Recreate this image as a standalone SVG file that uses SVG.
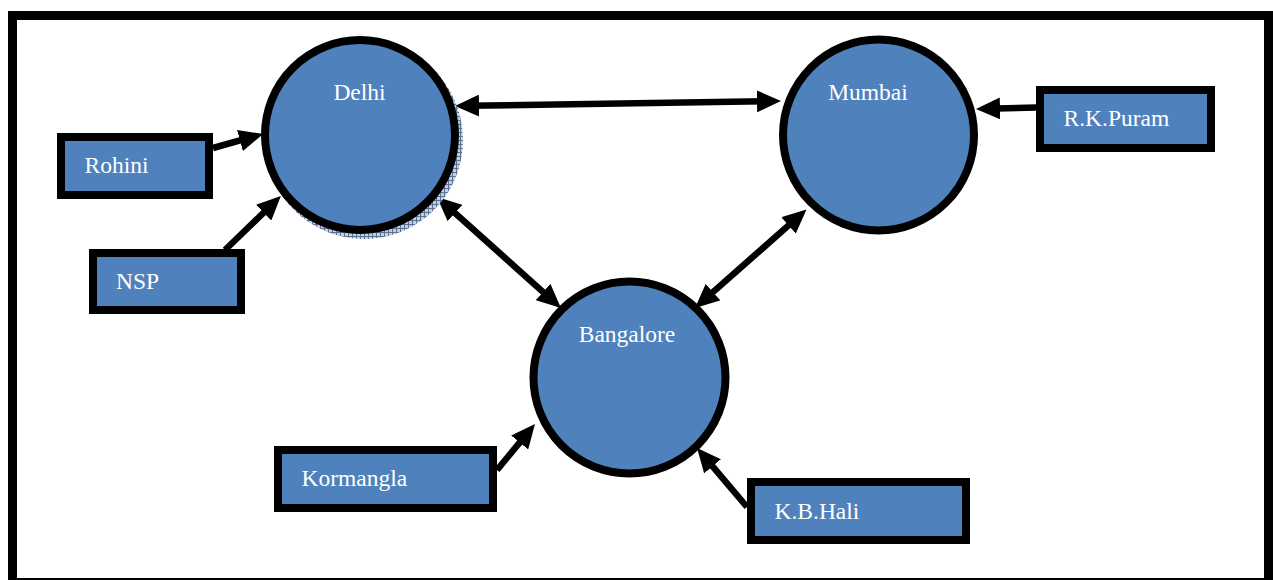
<svg xmlns="http://www.w3.org/2000/svg" width="1273" height="580" viewBox="0 0 1273 580">
  <style>
    .city { fill: #4f81bd; stroke: #000; stroke-width: 8; }
    .area { fill: #4f81bd; stroke: #000; stroke-width: 8; }
    .label { font-family: "Liberation Serif", "Times New Roman", serif; font-size: 23.5px; fill: #ffffff; }
    .link { stroke: #000; stroke-width: 6.5; fill: none; }
    .one { marker-end: url(#head); }
    .both { marker-start: url(#head); marker-end: url(#head); }
  </style>
  <defs>
    <marker id="head" markerUnits="userSpaceOnUse" viewBox="0 0 24 22" markerWidth="24" markerHeight="22" refX="14" refY="11" orient="auto-start-reverse">
      <path d="M0,0 L24,11 L0,22 z" fill="#000"/>
    </marker>
    <pattern id="hatch" width="4" height="4" patternUnits="userSpaceOnUse">
      <rect width="4" height="4" fill="#c4cfdd"/>
      <path d="M0,0.5 H4 M0.5,0 V4" stroke="#5b7194" stroke-width="1"/>
    </pattern>
  </defs>

  <rect width="1273" height="580" fill="#ffffff"/>

  <!-- outer frame -->
  <rect x="12.5" y="15.5" width="1256" height="567" fill="none" stroke="#000" stroke-width="9"/>

  <!-- connectors -->
  <g id="connectors">
    <line class="link one" x1="213" y1="148" x2="253.4" y2="136.7"/>
    <line class="link one" x1="225" y1="250" x2="273.7" y2="202.9"/>
    <line class="link both" x1="465" y1="105.85" x2="771" y2="101.15"/>
    <line class="link one" x1="1037" y1="107.5" x2="986" y2="108.8"/>
    <line class="link both" x1="444.5" y1="203.7" x2="553.5" y2="301.3"/>
    <line class="link both" x1="799" y1="216.1" x2="702.5" y2="301.4"/>
    <line class="link one" x1="497" y1="470" x2="528.6" y2="431.7"/>
    <line class="link one" x1="747" y1="507" x2="703.5" y2="455.6"/>
  </g>

  <!-- city nodes -->
  <g id="delhi">
    <circle cx="364" cy="140" r="99" fill="url(#hatch)"/>
    <circle class="city" cx="360" cy="135" r="95"/>
    <text class="label" x="359.5" y="100" text-anchor="middle">Delhi</text>
  </g>
  <g id="mumbai">
    <circle class="city" cx="878.5" cy="135" r="95.5"/>
    <text class="label" x="868" y="100" text-anchor="middle">Mumbai</text>
  </g>
  <g id="bangalore">
    <circle class="city" cx="629.5" cy="377.5" r="96"/>
    <text class="label" x="627" y="341.5" text-anchor="middle">Bangalore</text>
  </g>

  <!-- area nodes -->
  <g id="rohini">
    <rect class="area" x="61" y="137" width="148" height="58"/>
    <text class="label" x="84.5" y="172.5">Rohini</text>
  </g>
  <g id="nsp">
    <rect class="area" x="93" y="253" width="148" height="57"/>
    <text class="label" x="116" y="288.5">NSP</text>
  </g>
  <g id="rkpuram">
    <rect class="area" x="1040" y="90" width="171" height="58"/>
    <text class="label" x="1063.5" y="125.5">R.K.Puram</text>
  </g>
  <g id="kormangla">
    <rect class="area" x="278" y="450" width="215" height="58"/>
    <text class="label" x="301.5" y="485.5">Kormangla</text>
  </g>
  <g id="kbhali">
    <rect class="area" x="751" y="482" width="215" height="58"/>
    <text class="label" x="774.5" y="518.5">K.B.Hali</text>
  </g>
</svg>
